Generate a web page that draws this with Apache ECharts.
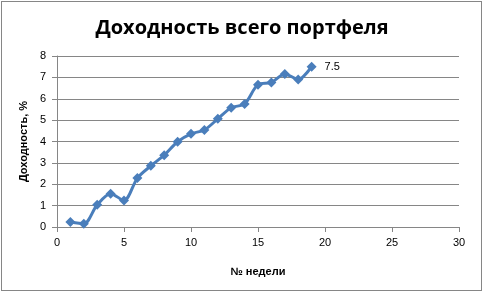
<!DOCTYPE html>
<html><head><meta charset="utf-8">
<script src="https://cdn.jsdelivr.net/npm/echarts@6/dist/echarts.min.js"></script>
<style>
html,body{margin:0;padding:0;background:#fff;}
#wrap{position:absolute;left:1px;top:1px;width:479px;height:288px;border:1px solid #868686;}
#c{position:absolute;left:0;top:0;width:484px;height:293px;}
</style></head>
<body>
<div id="wrap"></div>
<div id="c"></div>
<script>
const weeks = [1,2,3,4,5,6,7,8,9,10,11,12,13,14,15,16,17,18,19];
const returns = [0.23,0.15,1.04,1.56,1.24,2.29,2.86,3.36,3.99,4.36,4.54,5.06,5.58,5.76,6.66,6.76,7.16,6.9,7.5];
const titleText = 'Доходность всего портфеля';
const xName = '№ недели';
const yName = 'Доходность, %';

const data = weeks.map((w,i)=>[w, returns[i]]);
const chart = echarts.init(document.getElementById('c'), null, {renderer:'canvas'});
const lastIdx = data.length - 1;
chart.setOption({
  animation:false,
  backgroundColor:'transparent',
  title:{text:titleText,left:'center',top:13,textStyle:{fontFamily:'Open Sans',fontWeight:'bold',fontSize:20,color:'#000'}},
  grid:{left:57,right:25,top:56,bottom:66,containLabel:false},
  xAxis:{type:'value',min:0,max:30,interval:5,
    name:xName,nameLocation:'middle',nameGap:39,
    nameTextStyle:{fontFamily:'Liberation Sans',fontWeight:'bold',fontSize:11,color:'#000'},
    axisLine:{show:true,lineStyle:{color:'#868686'}},
    axisTick:{show:true,inside:false,length:5,lineStyle:{color:'#868686'}},
    axisLabel:{fontFamily:'Liberation Sans',fontSize:11,color:'#000',margin:10},
    splitLine:{show:false}},
  yAxis:{type:'value',min:0,max:8,interval:1,
    name:yName,nameLocation:'middle',nameGap:25,
    nameTextStyle:{fontFamily:'Liberation Sans',fontWeight:'bold',fontSize:11,color:'#000'},
    axisLine:{show:true,lineStyle:{color:'#868686'}},
    axisTick:{show:true,inside:false,length:5,lineStyle:{color:'#868686'}},
    axisLabel:{fontFamily:'Liberation Sans',fontSize:11,color:'#000',margin:11},
    splitLine:{show:true,lineStyle:{color:'#868686',width:1}}},
  series:[{type:'line',data:data,smooth:0.3,
    symbol:'diamond',symbolSize:10,
    lineStyle:{color:'#4A7EBB',width:3},
    itemStyle:{color:'#4A7EBB',borderWidth:0},
    label:{show:true,position:'right',distance:8,fontFamily:'Liberation Sans',fontSize:11,color:'#000',
      formatter:(p)=>p.dataIndex===lastIdx?String(p.value[1]):''}
  }]
});
</script>
</body></html>
